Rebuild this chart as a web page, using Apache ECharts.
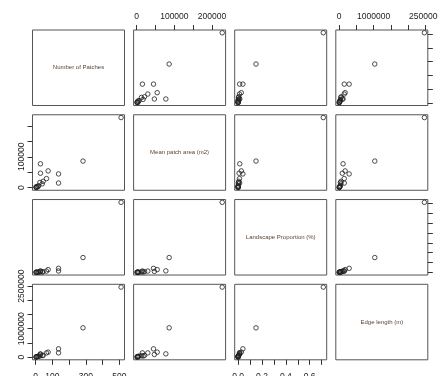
<!DOCTYPE html>
<html>
<head>
<meta charset="utf-8">
<script src="https://cdn.jsdelivr.net/npm/echarts@6/dist/echarts.min.js"></script>
<style>
  html, body { margin: 0; padding: 0; background: #fff; }
  #chart { width: 438px; height: 376px; }
</style>
</head>
<body>
<div id="chart"></div>
<script>
// Variable names shown on the diagonal panels
const varNames = ['Number of Patches', 'Mean patch area (m2)', 'Landscape Proportion (%)', 'Edge length (m)'];

// One entry per landscape class
const numPatches = [510, 283, 29, 29, 75, 137, 137, 65, 45, 26, 40, 2, 5, 9, 14, 18, 4];
const meanPatchArea = [227000, 86200, 77400, 46900, 54400, 44600, 15100, 29500, 20700, 17000, 12500, 2500, 1200, 4000, 3000, 6500, 800];
const landscapeProp = [0.714, 0.150, 0.014, 0.0085, 0.027, 0.040, 0.0128, 0.0118, 0.0057, 0.0027, 0.0031, 0.00005, 0.00004, 0.0002, 0.00026, 0.0007, 0.00002];
const edgeLength = [2465000, 1032000, 116000, 95000, 176000, 292000, 151000, 150000, 60000, 40000, 55000, 8000, 12000, 20000, 25000, 35000, 5000];

// Tick positions and the subset of them that carry a label
const tickNP = [0, 100, 200, 300, 400, 500];
const labelNP = [0, 100, 300, 500];
const tickMPA = [0, 50000, 100000, 150000, 200000];
const labelMPATop = [0, 100000, 200000];
const labelMPALeft = [0, 100000];
const tickLP = [0, 0.1, 0.2, 0.3, 0.4, 0.5, 0.6, 0.7];
const labelLP = [0, 0.2, 0.4, 0.6];
const tickEL = [0, 500000, 1000000, 1500000, 2000000, 2500000];
const labelEL = [0, 1000000, 2500000];

const vars = [numPatches, meanPatchArea, landscapeProp, edgeLength];
const ticks = [tickNP, tickMPA, tickLP, tickEL];
const fmt = [v => String(v), v => String(v), v => v.toFixed(1), v => String(v)];

// data range widened by 4% on each side
function range(arr) {
  const lo = Math.min(...arr), hi = Math.max(...arr);
  const pad = (hi - lo) * 0.04;
  return [lo - pad, hi + pad];
}
const ranges = vars.map(range);

const N = 4;
const cellW = 92, cellH = 75.5;
const x0 = 32.5, y0 = 30, stepX = 101.1, stepY = 84.77;

const FONT = 'Liberation Sans, Arial, sans-serif';
const grids = [], xAxes = [], yAxes = [], series = [], graphics = [];

function axisBase(v, gi, position, labels, isY) {
  const shown = labels !== null;
  let margin = 6;
  if (!isY) margin = position === 'top' ? 9 : 12;
  return {
    gridIndex: gi,
    type: 'value',
    min: ranges[v][0],
    max: ranges[v][1],
    position: position,
    show: shown,
    axisLine: { show: false, onZero: false },
    splitLine: { show: false },
    axisTick: {
      show: shown, length: 5, inside: false,
      customValues: ticks[v],
      lineStyle: { color: '#333', width: 1 }
    },
    axisLabel: {
      show: shown && labels.length > 0,
      customValues: labels || [],
      formatter: fmt[v],
      fontSize: 8.5,
      fontFamily: FONT,
      color: '#222',
      margin: margin,
      rotate: isY ? 90 : 0,
      showMinLabel: true,
      showMaxLabel: true,
      hideOverlap: false
    }
  };
}

for (let i = 0; i < N; i++) {
  for (let j = 0; j < N; j++) {
    const gi = i * N + j;
    const left = x0 + j * stepX, top = y0 + i * stepY;
    grids.push({
      left: left, top: top, width: cellW, height: cellH,
      show: true, borderColor: '#555', borderWidth: 1, backgroundColor: '#fff',
      containLabel: false,
      outerBoundsMode: 'none'
    });

    // x axis: top on row 0 for columns 1 and 3, bottom on row 3 for columns 0 and 2
    let xLabels = null, xPos = 'bottom';
    if (i === 0 && (j === 1 || j === 3)) {
      xPos = 'top';
      xLabels = j === 1 ? labelMPATop : labelEL;
    } else if (i === N - 1 && (j === 0 || j === 2)) {
      xPos = 'bottom';
      xLabels = j === 0 ? labelNP : labelLP;
    }
    // y axis: left on column 0 for rows 1 and 3, right on column 3 for rows 0 and 2
    let yLabels = null, yPos = 'left';
    if (j === 0 && (i === 1 || i === 3)) {
      yPos = 'left';
      yLabels = i === 1 ? labelMPALeft : labelEL;
    } else if (j === N - 1 && (i === 0 || i === 2)) {
      yPos = 'right';
      yLabels = [];
    }

    if (i === j) {
      xAxes.push(axisBase(j, gi, xPos, null, false));
      yAxes.push(axisBase(i, gi, yPos, null, true));
      graphics.push({
        type: 'text',
        x: left + cellW / 2,
        y: top + cellH / 2,
        style: {
          text: varNames[i],
          fontSize: 6,
          fontFamily: FONT,
          fill: '#5a4636',
          align: 'center',
          verticalAlign: 'middle'
        }
      });
      continue;
    }

    xAxes.push(axisBase(j, gi, xPos, xLabels, false));
    yAxes.push(axisBase(i, gi, yPos, yLabels, true));

    series.push({
      type: 'scatter',
      xAxisIndex: gi,
      yAxisIndex: gi,
      symbol: 'circle',
      symbolSize: 4.5,
      silent: true,
      animation: false,
      itemStyle: { color: 'rgba(0,0,0,0)', borderColor: '#222', borderWidth: 1 },
      data: vars[j].map((xv, k) => [xv, vars[i][k]])
    });
  }
}

const chart = echarts.init(document.getElementById('chart'), null, { renderer: 'canvas' });
chart.setOption({
  backgroundColor: '#fff',
  animation: false,
  grid: grids,
  xAxis: xAxes,
  yAxis: yAxes,
  series: series,
  graphic: graphics
});
</script>
</body>
</html>
